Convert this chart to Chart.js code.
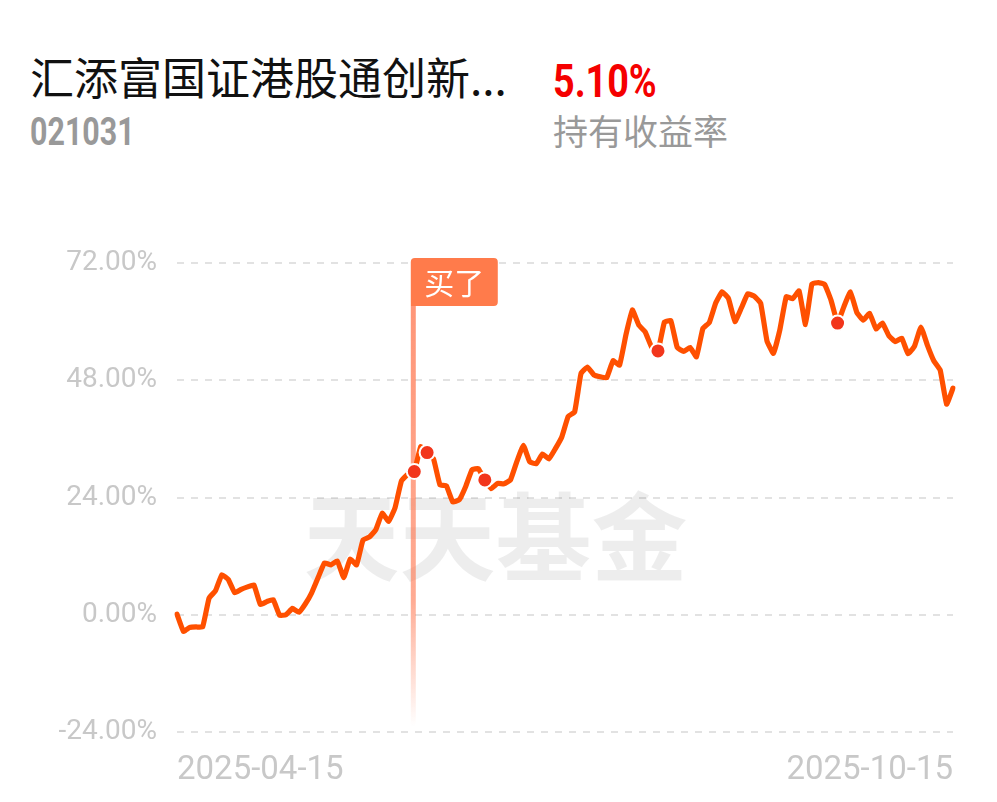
<!DOCTYPE html>
<html><head><meta charset="utf-8">
<script src="https://cdn.jsdelivr.net/npm/chart.js@4"></script>
<style>
html,body{margin:0;padding:0;background:#fff;width:997px;height:802px;overflow:hidden;}
#wrap{position:relative;width:997px;height:802px;}
#c{position:absolute;left:0;top:0;}
.t{position:absolute;white-space:nowrap;line-height:1;}
</style></head><body>
<div id="wrap">
<div class="t" style="left:30px;top:54px;font-size:44px;font-family:'Noto Sans CJK SC';color:#111;">汇添富国证港股通创新...</div>
<div class="t" style="left:553px;top:58px;font-size:46px;font-weight:700;font-family:Roboto;color:#f50000;transform:scaleX(0.82);transform-origin:left top;">5.10%</div>
<div class="t" style="left:30px;top:113px;font-size:38px;font-weight:700;font-family:Roboto;color:#999;transform:scaleX(0.8);transform-origin:left top;">021031</div>
<div class="t" style="left:553px;top:112px;font-size:35px;font-family:'Noto Sans CJK SC';color:#999;">持有收益率</div>
<canvas id="c" width="997" height="802"></canvas>
</div>
<script>
const dates = [
"2025-04-15","2025-04-16","2025-04-17","2025-04-18","2025-04-21","2025-04-22","2025-04-23","2025-04-24","2025-04-25","2025-04-28","2025-04-29","2025-04-30",
"2025-05-06","2025-05-07","2025-05-08","2025-05-09","2025-05-12","2025-05-13","2025-05-14","2025-05-15","2025-05-16","2025-05-19","2025-05-20","2025-05-21","2025-05-22","2025-05-23","2025-05-26","2025-05-27","2025-05-28","2025-05-29","2025-05-30",
"2025-06-03","2025-06-04","2025-06-05","2025-06-06","2025-06-09","2025-06-10","2025-06-11","2025-06-12","2025-06-13","2025-06-16","2025-06-17","2025-06-18","2025-06-19","2025-06-20","2025-06-23","2025-06-24","2025-06-25","2025-06-26","2025-06-27","2025-06-30",
"2025-07-01","2025-07-02","2025-07-03","2025-07-04","2025-07-07","2025-07-08","2025-07-09","2025-07-10","2025-07-11","2025-07-14","2025-07-15","2025-07-16","2025-07-17","2025-07-18","2025-07-21","2025-07-22","2025-07-23","2025-07-24","2025-07-25","2025-07-28","2025-07-29","2025-07-30","2025-07-31",
"2025-08-01","2025-08-04","2025-08-05","2025-08-06","2025-08-07","2025-08-08","2025-08-11","2025-08-12","2025-08-13","2025-08-14","2025-08-15","2025-08-18","2025-08-19","2025-08-20","2025-08-21","2025-08-22","2025-08-25","2025-08-26","2025-08-27","2025-08-28","2025-08-29",
"2025-09-01","2025-09-02","2025-09-03","2025-09-04","2025-09-05","2025-09-08","2025-09-09","2025-09-10","2025-09-11","2025-09-12","2025-09-15","2025-09-16","2025-09-17","2025-09-18","2025-09-19","2025-09-22","2025-09-23","2025-09-24","2025-09-25","2025-09-26","2025-09-29","2025-09-30",
"2025-10-09","2025-10-10","2025-10-13","2025-10-14","2025-10-15"
];
const returns = [
0.1, -3.4, -2.6, -2.5, -2.5, 3.4, 4.9, 8.2, 7.2, 4.5,
5.2, 5.7, 6.1, 2.1, 2.7, 3.1, -0.1, 0.0, 1.3, 0.5,
2.2, 4.5, 7.6, 10.6, 10.2, 11.0, 7.6, 11.4, 10.2, 15.3,
15.9, 17.4, 20.8, 19.1, 21.9, 27.4, 28.8, 29.3, 34.4, 33.2,
31.9, 26.6, 26.4, 23.1, 23.5, 26.2, 29.7, 29.9, 27.6, 25.8,
26.9, 26.8, 27.6, 31.4, 34.7, 31.3, 30.9, 32.9, 31.9, 34.0,
36.4, 40.6, 41.5, 49.4, 50.7, 49.1, 48.7, 48.5, 52.0, 51.1,
57.3, 62.4, 59.3, 57.9, 54.8, 54.0, 59.9, 60.2, 54.7, 53.9,
54.7, 52.8, 58.6, 59.8, 63.8, 66.1, 64.7, 60.0, 62.8, 65.7,
65.2, 63.8, 56.0, 53.5, 58.3, 65.1, 64.7, 66.3, 59.4, 67.7,
68.0, 67.6, 64.3, 59.7, 63.1, 66.1, 61.9, 60.3, 61.7, 58.5,
59.7, 57.1, 55.9, 56.6, 53.4, 55.0, 58.9, 55.2, 52.0, 50.1,
43.1, 46.4
];
const markerIndices = [37, 39, 48, 75, 103];
const buyIndex = 37;
const buyLabel = "买了";
const watermark = "天天基金";
const yTicks = [-24, 0, 24, 48, 72];

const bgPlugin = {
  id: 'bg',
  beforeDatasetsDraw(chart) {
    const {ctx, chartArea, scales} = chart;
    const x = scales.x;
    ctx.save();
    ctx.font = 'bold 96px "Noto Sans CJK SC"';
    ctx.fillStyle = 'rgba(0,0,0,0.07)';
    ctx.textAlign = 'center';
    ctx.textBaseline = 'middle';
    ctx.fillText(watermark, chart.width / 2 - 3, chartArea.top + 274);
    const bx = x.getPixelForValue(buyIndex) - 1;
    const boxTop = chartArea.top - 5, boxH = 48, boxW = 87;
    const lineBottom = chartArea.bottom - 6;
    const g = ctx.createLinearGradient(0, boxTop + boxH, 0, lineBottom);
    g.addColorStop(0, 'rgba(255,115,75,0.75)');
    g.addColorStop(0.7, 'rgba(255,115,75,0.6)');
    g.addColorStop(1, 'rgba(255,115,75,0)');
    ctx.fillStyle = g;
    ctx.fillRect(bx - 2.5, boxTop + boxH, 5, lineBottom - (boxTop + boxH));
    ctx.fillStyle = '#ff7b4b';
    ctx.beginPath();
    ctx.roundRect(bx - 2.5, boxTop, boxW, boxH, [4, 4, 4, 0]);
    ctx.fill();
    ctx.fillStyle = '#fff';
    ctx.font = '30px "Noto Sans CJK SC"';
    ctx.textAlign = 'center';
    ctx.textBaseline = 'middle';
    ctx.fillText(buyLabel, bx - 2.5 + boxW / 2, boxTop + boxH / 2 + 1);
    ctx.restore();
  }
};

new Chart(document.getElementById('c').getContext('2d'), {
  type: 'line',
  data: {
    labels: dates,
    datasets: [{
      data: returns,
      borderColor: '#ff5000',
      borderWidth: 5.2,
      tension: 0.1,
      borderJoinStyle: 'round',
      borderCapStyle: 'round',
      fill: false,
      pointRadius: c => markerIndices.includes(c.dataIndex) ? 7.5 : 0,
      pointBackgroundColor: '#f2361c',
      pointBorderColor: '#ffffff',
      pointBorderWidth: 2
    }]
  },
  options: {
    responsive: false,
    animation: false,
    events: [],
    layout: {padding: {left: 0, right: 44, top: 263, bottom: 0}},
    plugins: {legend: {display: false}, tooltip: {enabled: false}},
    scales: {
      x: {
        grid: {display: false, drawTicks: false},
        border: {display: false},
        ticks: {
          autoSkip: false, maxRotation: 0, minRotation: 0, align: 'inner', padding: 19,
          color: '#c8c8c8', font: {family: 'Roboto', size: 33},
          callback: (v, i) => (i === 0 || i === dates.length - 1) ? dates[i] : ''
        },
        afterFit: s => { s.height = 70; }
      },
      y: {
        min: yTicks[0], max: yTicks[yTicks.length - 1],
        afterBuildTicks: s => { s.ticks = yTicks.map(v => ({value: v})); },
        ticks: {
          padding: 20, color: '#c8c8c8', font: {family: 'Roboto', size: 28},
          callback: v => v.toFixed(2) + '%'
        },
        grid: {color: '#e2e2e2', lineWidth: 2, drawTicks: false},
        border: {display: false, dash: [7, 7]},
        afterFit: s => { s.width = 177; }
      }
    }
  },
  plugins: [bgPlugin]
});
</script>
</body></html>
